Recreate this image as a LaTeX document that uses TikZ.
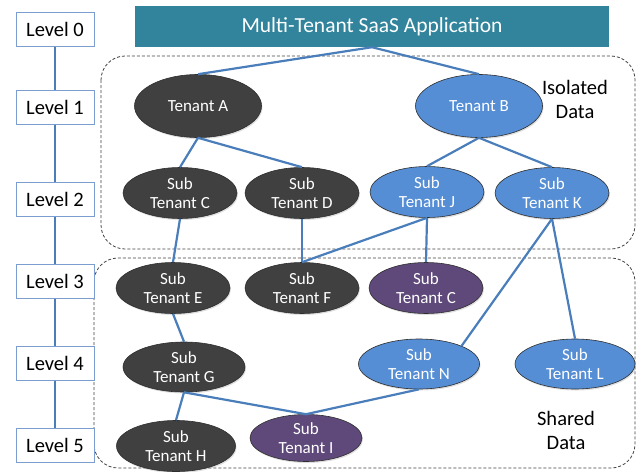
\documentclass[tikz,border=0pt]{standalone}
\usepackage{fontspec}
\setmainfont{Carlito}
\usetikzlibrary{shapes.geometric,shadows}
\definecolor{linkblue}{HTML}{4A7EBB}
\definecolor{lvlborder}{HTML}{7C9DD0}
\definecolor{appteal}{HTML}{31849B}
\definecolor{darknode}{HTML}{404040}
\definecolor{bluenode}{HTML}{558ED5}
\definecolor{purplenode}{HTML}{5F497A}
\definecolor{edgegray}{HTML}{2E2E2E}
\tikzset{
  lvl/.style={draw=lvlborder, line width=1pt, fill=white, minimum width=78pt,
    minimum height=34pt, inner sep=0pt, font=\fontsize{20.5}{23}\selectfont},
  tnode/.style={ellipse, draw=edgegray, line width=0.6pt, inner sep=0pt,
    text=white, align=center, font=\fontsize{17}{18.5}\selectfont,
    drop shadow={opacity=0.25, shadow xshift=1pt, shadow yshift=-1.5pt}},
  small/.style={minimum width=114pt, minimum height=51pt},
  big/.style={minimum width=127pt, minimum height=63pt},
  darkt/.style={tnode, fill=darknode},
  bluet/.style={tnode, fill=bluenode},
  purplet/.style={tnode, fill=purplenode},
  link/.style={draw=linkblue, line width=2.2pt},
  region/.style={draw=black!75, line width=0.8pt, dash pattern=on 3pt off 2pt,
    rounded corners=24pt},
  caption/.style={align=center, font=\fontsize{20.5}{24}\selectfont}
}
\begin{document}
\begin{tikzpicture}[x=1pt, y=-1pt]
\useasboundingbox (0,0) rectangle (636,471);

% dashed data regions
\draw[region] (101,56) rectangle (635,249);
\draw[region] (94,258) rectangle (635,468);

% level ladder
\node[lvl] (L0) at (55,29) {Level 0};
\node[lvl] (L1) at (55,107) {Level 1};
\node[lvl] (L2) at (55,199) {Level 2};
\node[lvl] (L3) at (55,281) {Level 3};
\node[lvl] (L4) at (55,363) {Level 4};
\node[lvl] (L5) at (55,445) {Level 5};
\foreach \a/\b in {L0/L1, L1/L2, L2/L3, L3/L4, L4/L5}
  \draw[link] (\a.south) -- (\b.north);

% application bar
\node[fill=appteal, minimum width=474pt, minimum height=41pt, inner sep=0pt,
  text=white, font=\fontsize{21.5}{24}\selectfont] (app) at (372,26.5)
  {Multi-Tenant SaaS Application};

% tenants
\node[darkt, big] (A) at (198,106) {Tenant A};
\node[bluet, big] (B) at (479,106) {Tenant B};

\node[darkt, small] (C) at (180,193) {Sub\\Tenant C};
\node[darkt, small] (D) at (302,193) {Sub\\Tenant D};
\node[bluet, small] (J) at (427,192) {Sub\\Tenant J};
\node[bluet, small] (K) at (552,193) {Sub\\Tenant K};

\node[darkt, small] (E) at (173,288) {Sub\\Tenant E};
\node[darkt, small] (F) at (302,288) {Sub\\Tenant F};
\node[purplet, small] (PC) at (426,288) {Sub\\Tenant C};

\node[darkt, small, minimum width=122pt, minimum height=50pt] (G) at (184,367) {Sub\\Tenant G};
\node[bluet, small, minimum width=121pt, minimum height=50pt] (N) at (419,364) {Sub\\Tenant N};
\node[bluet, small, minimum width=120pt, minimum height=50pt] (L) at (575,364) {Sub\\Tenant L};

\node[darkt, small, minimum width=119pt] (H) at (176,446) {Sub\\Tenant H};
\node[purplet, small, minimum width=112pt, minimum height=47pt] (I) at (306,438) {Sub\\Tenant I};

% captions
\node[caption] (iso) at (575,99) {Isolated\\Data};
\node[caption] (shr) at (566,430) {Shared\\Data};

% links
\draw[link] (app.south) -- (A.north);
\draw[link] (app.south) -- (B.north);
\draw[link] (A.south) -- (C.north);
\draw[link] (A.south) -- (D.north);
\draw[link] (B.south) -- (J.north);
\draw[link] (B.south) -- (K.north);
\draw[link] (C.south) -- (E.north);
\draw[link] (D.south) -- (F.north);
\draw[link] (J.south) -- (F.north);
\draw[link] (J.south) -- (PC.north);
\draw[link] (K.south) -- (N.23);
\draw[link] (K.south) -- (L.north);
\draw[link] (E.south) -- (G.north);
\draw[link] (G.south) -- (H.north);
\draw[link] (G.south) -- (I.north);
\draw[link] (N.south) -- (I.north);
\end{tikzpicture}
\end{document}
